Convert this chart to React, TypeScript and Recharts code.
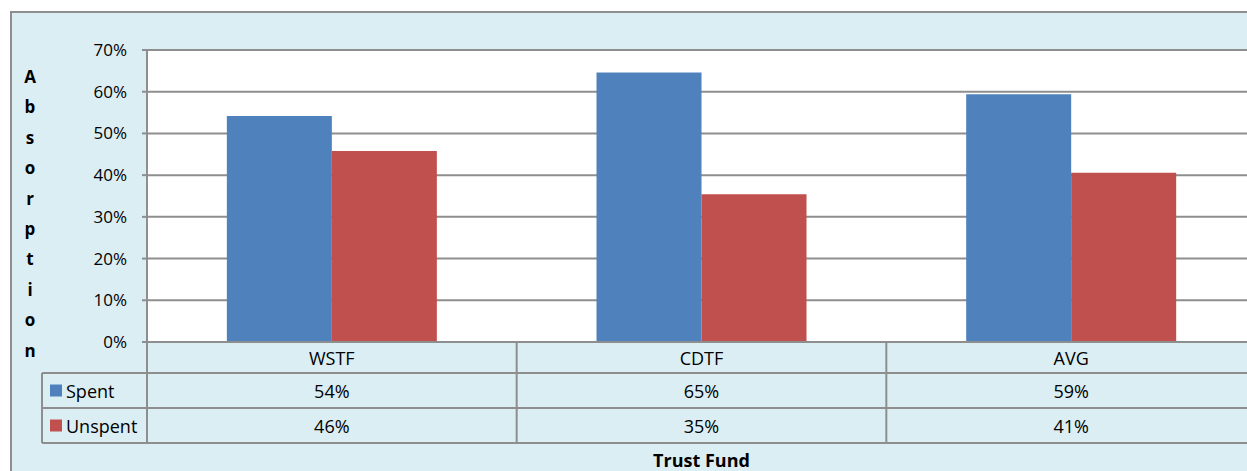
import React from "react";
import { BarChart, Bar, XAxis, YAxis, CartesianGrid } from "recharts";

const categories = ["WSTF", "CDTF", "AVG"];
const spentValues = [54.2, 64.6, 59.4];
const unspentValues = [45.8, 35.4, 40.6];
const spentLabels = ["54%", "65%", "59%"];
const unspentLabels = ["46%", "35%", "41%"];
const yTicks = [0, 10, 20, 30, 40, 50, 60, 70];
const seriesNames = ["Spent", "Unspent"];
const seriesColors = ["#4F81BD", "#C0504D"];
const yTitle = "Absorption";
const xTitle = "Trust Fund";

const data = categories.map((c, i) => ({
  name: c,
  spent: spentValues[i],
  unspent: unspentValues[i],
}));

const FONT = "'Open Sans', 'Noto Sans', sans-serif";
const GRID = "#8E8E8E";
const CHART_W = 1270;
const CHART_H = 471;
const M_LEFT = 10;
const M_RIGHT = 14;
const Y_W = 137;
const PLOT_LEFT = M_LEFT + Y_W;
const PLOT_RIGHT = CHART_W - M_RIGHT;
const BAND = (PLOT_RIGHT - PLOT_LEFT) / categories.length;
const AXIS_Y = 342;
const ROW1 = 373;
const ROW2 = 408;
const ROW3 = 443;
const TABLE_FS = 18;

const TableTick = (props: any) => {
  const { x, index } = props;
  const leftX = x - BAND / 2;
  return (
    <g>
      <line x1={leftX} y1={AXIS_Y} x2={leftX} y2={ROW3} stroke={GRID} strokeWidth={2} />
      <text x={x} y={(AXIS_Y + ROW1) / 2} textAnchor="middle" dominantBaseline="central" fontFamily={FONT} fontSize={TABLE_FS} fill="#000">
        {categories[index]}
      </text>
      <text x={x} y={(ROW1 + ROW2) / 2} textAnchor="middle" dominantBaseline="central" fontFamily={FONT} fontSize={TABLE_FS} fill="#000">
        {spentLabels[index]}
      </text>
      <text x={x} y={(ROW2 + ROW3) / 2} textAnchor="middle" dominantBaseline="central" fontFamily={FONT} fontSize={TABLE_FS} fill="#000">
        {unspentLabels[index]}
      </text>
    </g>
  );
};

export default function App() {
  const letters = yTitle.split("");
  return (
    <div style={{ position: "absolute", left: 0, top: 0, width: 1247, height: 471, overflow: "hidden", background: "#fff" }}>
      <div
        style={{
          position: "absolute",
          left: 10,
          top: 11,
          width: 1300,
          height: 500,
          border: `2px solid ${GRID}`,
          background: "#DBEEF4",
        }}
      />
      <div style={{ position: "absolute", left: 0, top: 0 }}>
        <BarChart
          width={CHART_W}
          height={CHART_H}
          data={data}
          margin={{ top: 50, right: M_RIGHT, bottom: 0, left: M_LEFT }}
          barCategoryGap="21.6%"
          barGap={0}
        >
          <CartesianGrid vertical={false} stroke={GRID} strokeWidth={2} fill="#fff" />
          <XAxis
            dataKey="name"
            height={CHART_H - AXIS_Y}
            axisLine={{ stroke: GRID, strokeWidth: 2 }}
            tickLine={false}
            tick={<TableTick />}
            interval={0}
          />
          <YAxis
            width={Y_W}
            domain={[0, 70]}
            ticks={yTicks}
            tickFormatter={(v: number) => `${v}%`}
            axisLine={{ stroke: GRID, strokeWidth: 2 }}
            tickLine={{ stroke: GRID, strokeWidth: 2 }}
            tickSize={5}
            tickMargin={15}
            tick={{ fontFamily: FONT, fontSize: 17, fill: "#000" }}
          />
          <Bar dataKey="spent" fill={seriesColors[0]} isAnimationActive={false} />
          <Bar dataKey="unspent" fill={seriesColors[1]} isAnimationActive={false} />
        </BarChart>
      </div>
      <svg style={{ position: "absolute", left: 0, top: 0, pointerEvents: "none" }} width={1247} height={471}>
        {[ROW1, ROW2, ROW3].map((y) => (
          <line key={y} x1={42} y1={y} x2={1247} y2={y} stroke={GRID} strokeWidth={2} />
        ))}
        <line x1={42} y1={ROW1} x2={42} y2={ROW3} stroke={GRID} strokeWidth={2} />
        <line x1={PLOT_LEFT} y1={AXIS_Y} x2={PLOT_LEFT} y2={ROW3} stroke={GRID} strokeWidth={2} />
        {seriesNames.map((s, i) => {
          const top = i === 0 ? ROW1 : ROW2;
          const cy = (top + (i === 0 ? ROW2 : ROW3)) / 2;
          return (
            <g key={s}>
              <rect x={50} y={cy - 6} width={12} height={12} fill={seriesColors[i]} />
              <text x={66} y={cy} dominantBaseline="central" fontFamily={FONT} fontSize={TABLE_FS} fill="#000">
                {s}
              </text>
            </g>
          );
        })}
        {letters.map((ch, i) => (
          <text key={i} x={30} y={83 + i * 30.4} textAnchor="middle" fontFamily={FONT} fontWeight="bold" fontSize={17} fill="#000">
            {ch}
          </text>
        ))}
        <text x={(PLOT_LEFT + PLOT_RIGHT) / 2} y={467} textAnchor="middle" fontFamily={FONT} fontWeight="bold" fontSize={18} fill="#000" style={{ whiteSpace: "pre" }}>
          {xTitle}
        </text>
      </svg>
    </div>
  );
}
